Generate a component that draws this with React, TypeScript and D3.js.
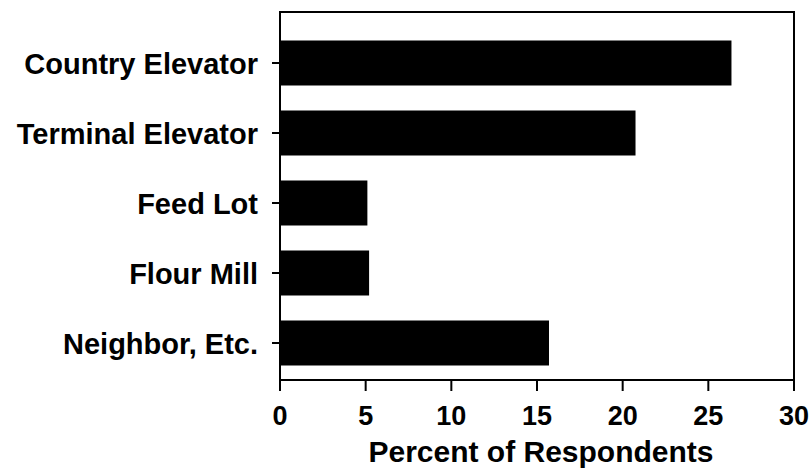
import React from "react";
import * as d3 from "d3";

const categories = ["Country Elevator", "Terminal Elevator", "Feed Lot", "Flour Mill", "Neighbor, Etc."];
const values = [26.35, 20.75, 5.1, 5.2, 15.7];
const xTicks = [0, 5, 10, 15, 20, 25, 30];
const xTitle = "Percent of Respondents";

export default function App() {
  const W = 812, H = 469;
  const left = 280, right = 794, top = 12, bottom = 380;
  const x = d3.scaleLinear().domain([0, 30]).range([left, right]);
  const y = d3.scaleBand<string>().domain(categories).range([28, 378]).paddingInner(25 / 70).paddingOuter(12.5 / 70);
  const font = "'Liberation Sans', Arial, sans-serif";
  return (
    <svg width={W} height={H} style={{ position: "absolute", left: 0, top: 0, background: "#fff" }}>
      {categories.map((c, i) => (
        <rect key={c} x={x(0)} y={y(c)!} width={x(values[i]) - x(0)} height={y.bandwidth()} fill="#000" />
      ))}
      <rect x={left} y={top} width={right - left} height={bottom - top} fill="none" stroke="#000" strokeWidth={2} />
      {categories.map((c) => {
        const cy = y(c)! + y.bandwidth() / 2;
        return (
          <g key={c}>
            <line x1={left - 8} x2={left} y1={cy} y2={cy} stroke="#000" strokeWidth={2} />
            <text x={258} y={cy + 11} textAnchor="end" fontFamily={font} fontWeight="bold" fontSize={29} fill="#000">{c}</text>
          </g>
        );
      })}
      {xTicks.map((t) => (
        <g key={t}>
          <line x1={x(t)} x2={x(t)} y1={bottom} y2={bottom + 11} stroke="#000" strokeWidth={2} />
          <text x={x(t)} y={425} textAnchor="middle" fontFamily={font} fontWeight="bold" fontSize={27} fill="#000">{t}</text>
        </g>
      ))}
      <text x={(left + right) / 2 + 4} y={462} textAnchor="middle" fontFamily={font} fontWeight="bold" fontSize={30} fill="#000">{xTitle}</text>
    </svg>
  );
}
